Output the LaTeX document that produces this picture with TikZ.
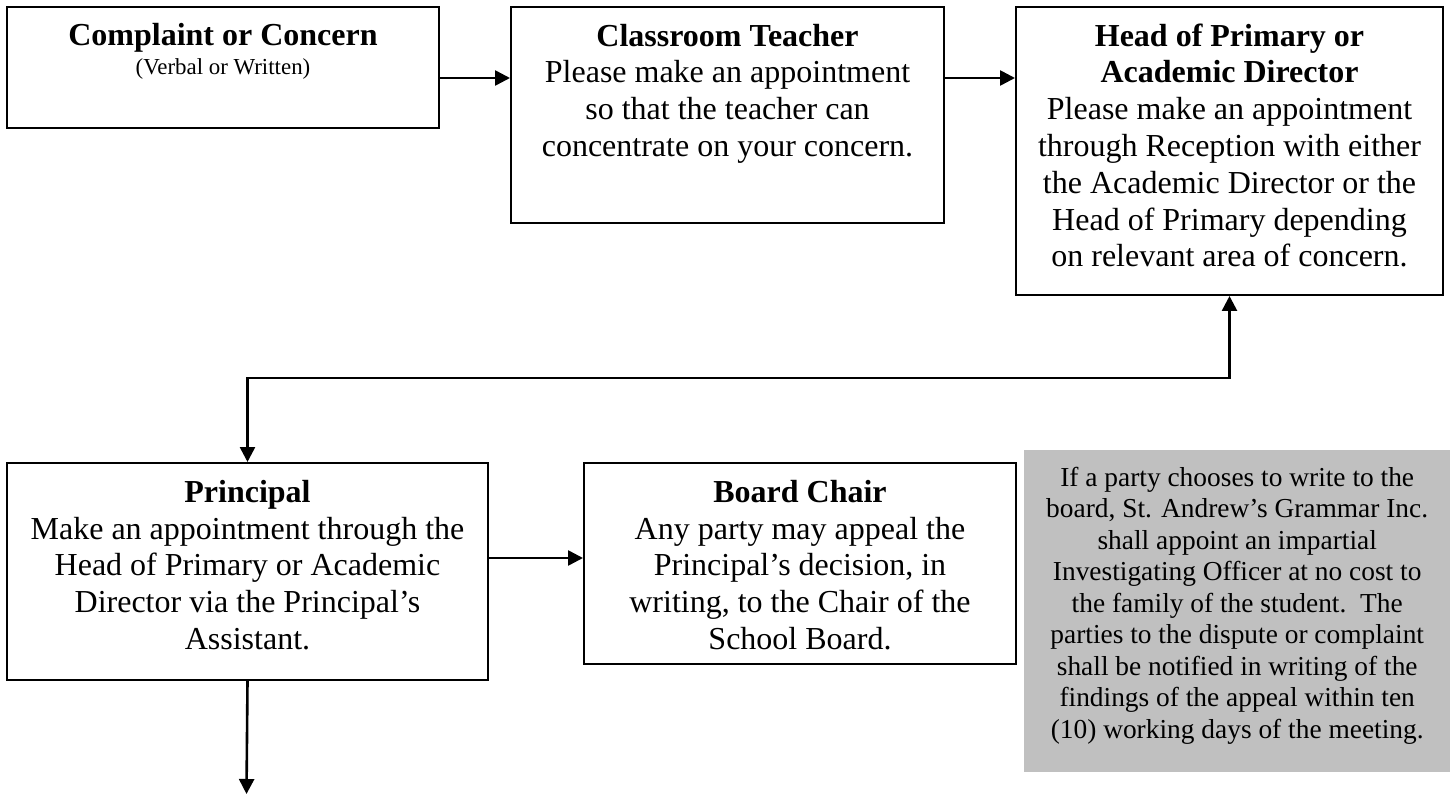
\documentclass[tikz,border=0pt]{standalone}
\usepackage{fontspec}
\setmainfont{Liberation Serif}
\usetikzlibrary{arrows.meta,calc}
\begin{document}
\begin{tikzpicture}[x=1pt,y=-1pt,
  box/.style={draw, line width=2pt, inner sep=0pt, anchor=north west},
  body/.style={inner sep=0pt, anchor=north, align=center, font=\fontsize{32}{36.8}\selectfont},
  note/.style={inner sep=0pt, anchor=north, align=center, font=\fontsize{27.4}{31.5}\selectfont},
  tip/.style={Triangle[length=15pt,width=15pt]},
  arr/.style={line width=2.6pt, -{Triangle[length=15pt,width=15pt]}},
  arrb/.style={line width=2.6pt, miter limit=10, {Triangle[length=15pt,width=15pt]}-{Triangle[length=15pt,width=15pt]}},
]
\useasboundingbox (0,0) rectangle (1450,799);
\fill[white] (0,0) rectangle (1450,799);

% boxes
\node[box, minimum width=432pt, minimum height=121pt] (b1) at (6,6) {};
\node[box, minimum width=433pt, minimum height=216pt] (b2) at (510,6) {};
\node[box, minimum width=427pt, minimum height=288pt] (b3) at (1015,6) {};
\node[box, minimum width=481pt, minimum height=217pt] (pr) at (6,462) {};
\node[box, minimum width=432pt, minimum height=201pt] (bd) at (583,462) {};
\node[fill={rgb,255:red,192;green,192;blue,192}, inner sep=0pt, anchor=north west,
      minimum width=426pt, minimum height=322pt] (gr) at (1024,450) {};

% texts
\node[inner sep=0pt, anchor=base, font=\fontsize{32}{36.8}\selectfont\bfseries] (t1a)
  at ($(b1.north)+(0,40)$) {Complaint or Concern};
\node[inner sep=0pt, anchor=base, font=\fontsize{22.9}{26.3}\selectfont] (t1b)
  at ($(b1.north)+(0,69)$) {(Verbal or Written)};

\node[body] (t2) at ($(b2.north)+(0,14.24)$) {\strut\textbf{Classroom Teacher}\\Please make an appointment\\so that the teacher can\\concentrate on your concern.};

\node[body] (t3) at ($(b3.north)+(0,14.24)$) {\strut\textbf{Head of Primary or}\\\textbf{Academic Director}\\Please make an appointment\\through Reception with either\\the Academic Director or the\\Head of Primary depending\\on relevant area of concern.};

\node[body] (t4) at ($(pr.north)+(0,14.24)$) {\strut\textbf{Principal}\\Make an appointment through the\\Head of Primary or Academic\\Director via the Principal’s\\Assistant.};

\node[body] (t5) at ($(bd.north)+(0,14.24)$) {\strut\textbf{Board Chair}\\Any party may appeal the\\Principal’s decision, in\\writing, to the Chair of the\\School Board.};

\node[note] (t6) at ($(gr.north)+(0,13.95)$) {\strut If a party chooses to write to the\\board, St. Andrew’s Grammar Inc.\\shall appoint an impartial\\Investigating Officer at no cost to\\the family of the student.\ \ The\\parties to the dispute or complaint\\shall be notified in writing of the\\findings of the appeal within ten\\(10) working days of the meeting.};

% helper rows
\coordinate (r1) at (0,78);
\coordinate (r2) at (0,378);
\coordinate (r3) at (0,558);
\coordinate (end) at (246.5,794);

% connectors
\draw[arr] (b1.east |- r1) -- (b2.west |- r1);
\draw[arr] (b2.east |- r1) -- (b3.west |- r1);
\draw[arrb] (b3.south) -- (b3.south |- r2) -- (pr.north |- r2) -- (pr.north);
\draw[arr] (pr.east |- r3) -- (bd.west |- r3);
\draw[arr] (pr.south) -- (end);
\end{tikzpicture}
\end{document}
